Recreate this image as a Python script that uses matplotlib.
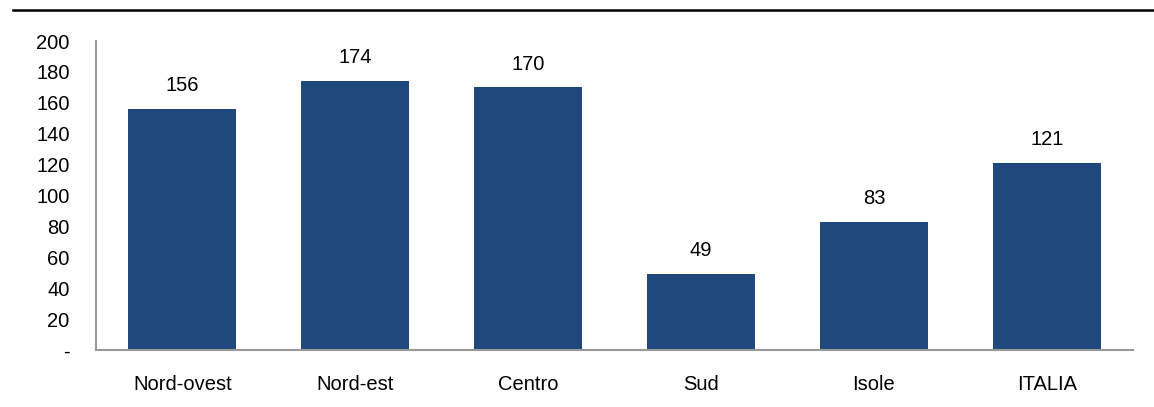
import matplotlib.pyplot as plt
from matplotlib.lines import Line2D

regions = ['Nord-ovest', 'Nord-est', 'Centro', 'Sud', 'Isole', 'ITALIA']
values = [156, 174, 170, 49, 83, 121]
yticks = [0, 20, 40, 60, 80, 100, 120, 140, 160, 180, 200]
ytick_labels = ['-'] + [str(v) for v in yticks[1:]]

plt.rcParams['font.family'] = ['Liberation Sans', 'DejaVu Sans']

fig = plt.figure(figsize=(11.54, 4.07), dpi=100)
ax = fig.add_axes((0.0832, 0.140, 0.8988, 0.759))

bars = ax.bar(regions, values, width=0.625, color='#1F497D')
ax.bar_label(bars, labels=[str(v) for v in values], padding=10, fontsize=14.5)

ax.set_ylim(0, 200)
ax.set_xlim(-0.5, len(regions) - 0.5)
ax.set_yticks(yticks)
ax.set_yticklabels(ytick_labels)
ax.tick_params(axis='y', length=0, pad=19, labelsize=14.5)
ax.tick_params(axis='x', length=0, pad=18, labelsize=14.5)
# the dash for zero sits a little lower in the original
ax.get_yticklabels()[0].set_y(-2)

for s in ['top', 'right']:
    ax.spines[s].set_visible(False)
for s in ['left', 'bottom']:
    ax.spines[s].set_color('#999999')
    ax.spines[s].set_linewidth(1.5)

# black rule across the top
fig.add_artist(Line2D([13 / 1154, 1.0], [1 - 10 / 407, 1 - 10 / 407],
                      color='black', linewidth=1.8, transform=fig.transFigure))

fig.savefig('out.png', dpi=100)
